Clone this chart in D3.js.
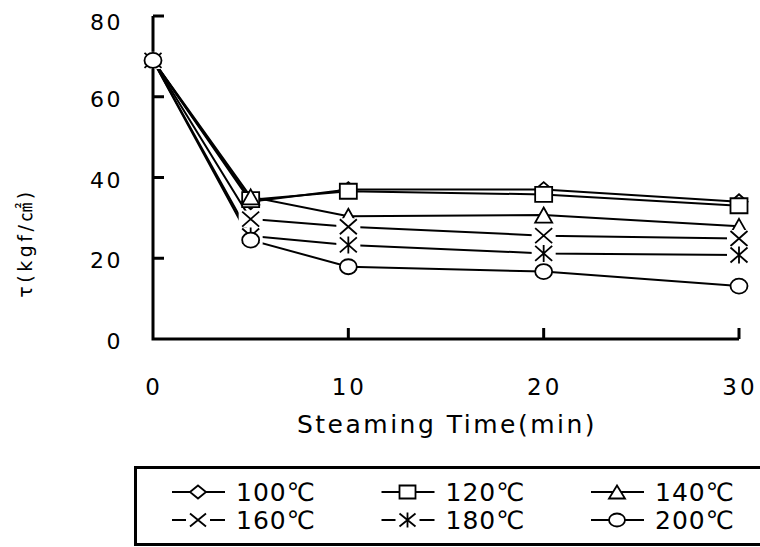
<!DOCTYPE html>
<html>
<head>
<meta charset="utf-8">
<script src="https://cdn.jsdelivr.net/npm/d3@7"></script>
<style>
  body { margin: 0; background: #fff; }
  text { font-family: "DejaVu Sans", "Liberation Sans", "Noto Sans CJK KR", sans-serif; fill: #000; }
</style>
</head>
<body>
<script>
const w = 760;
const h = 547;

// steaming time (min)
const times = [0, 5, 10, 20, 30];
// shear stress by steaming temperature
const t100 = [69, 34, 37, 37, 34];
const t120 = [69, 34.5, 36.6, 35.8, 33];
const t140 = [69, 35.2, 30.4, 30.7, 27.9];
const t160 = [69, 29.7, 27.8, 25.6, 24.9];
const t180 = [69, 25.5, 23.3, 21.2, 20.8];
const t200 = [69, 24.5, 17.9, 16.7, 13.1];
const seriesNames = ["100℃", "120℃", "140℃", "160℃", "180℃", "200℃"];
const markerTypes = ["diamond", "square", "triangle", "cross", "star", "circle"];
const yTicks = [0, 20, 40, 60, 80];
const xTicks = [0, 10, 20, 30];

const series = [t100, t120, t140, t160, t180, t200].map((vals, i) => ({
    name: seriesNames[i],
    marker: markerTypes[i],
    points: vals.map((v, j) => [times[j], v])
}));

const svg = d3.select("body").append("svg").attr("width", w).attr("height", h);
svg.append("rect").attr("width", w).attr("height", h).attr("fill", "#fff");

const x = d3.scaleLinear().domain([0, 30]).range([153, 739]);
const y = d3.scaleLinear().domain([0, 80]).range([339, 16]);

// marker path, half width a / half height b
function markerPath(type, a, b) {
    switch (type) {
        case "diamond": return `M0,${-b}L${a},0L0,${b}L${-a},0Z`;
        case "square": return `M${-a},${-b}H${a}V${b}H${-a}Z`;
        case "triangle": return `M0,${-b}L${a},${b}H${-a}Z`;
        case "cross": return `M${-a},${-b}L${a},${b}M${a},${-b}L${-a},${b}`;
        case "star": return `M${-a},${-b}L${a},${b}M${a},${-b}L${-a},${b}M0,${-b - 1}V${b + 1}`;
        case "circle": return `M${-a},0A${a},${b} 0 1,0 ${a},0A${a},${b} 0 1,0 ${-a},0Z`;
    }
}
const open = t => t === "cross" || t === "star";

function drawMarker(g, type, cx, cy, a, b) {
    if (open(type)) {
        g.append("rect")
            .attr("x", cx - 12).attr("y", cy - b - 1)
            .attr("width", 24).attr("height", 2 * b + 2)
            .attr("fill", "#fff");
    }
    g.append("path")
        .attr("d", markerPath(type, a, b))
        .attr("transform", `translate(${cx},${cy})`)
        .attr("fill", open(type) ? "none" : "#fff")
        .attr("stroke", "#000")
        .attr("stroke-width", 1.8);
}

////  Axes  ////
const axis = svg.append("g");
axis.append("path")
    .attr("d", `M${x(0)},${y(80)}V${y(0)}H${x(30)}`)
    .attr("fill", "none").attr("stroke", "#000").attr("stroke-width", 3);
axis.selectAll("line.yt").data(yTicks.filter(d => d > 0)).enter().append("line")
    .attr("x1", x(0)).attr("x2", x(0) + 11)
    .attr("y1", d => y(d)).attr("y2", d => y(d))
    .attr("stroke", "#000").attr("stroke-width", 3);
axis.selectAll("line.xt").data(xTicks.filter(d => d > 0)).enter().append("line")
    .attr("x1", d => x(d)).attr("x2", d => x(d))
    .attr("y1", y(0)).attr("y2", y(0) - 11)
    .attr("stroke", "#000").attr("stroke-width", 3);

axis.selectAll("text.yl").data(yTicks).enter().append("text")
    .attr("x", 123)
    .attr("y", d => y(d) + 10 + (d === 80 ? 4 : 0))
    .attr("text-anchor", "end")
    .attr("font-size", 22)
    .attr("letter-spacing", 2.5)
    .text(d => d);

axis.selectAll("text.xl").data(xTicks).enter().append("text")
    .attr("x", d => x(d) + 1)
    .attr("y", 395)
    .attr("text-anchor", "middle")
    .attr("font-size", 23)
    .attr("letter-spacing", 3)
    .text(d => d);

svg.append("text")
    .attr("x", 447)
    .attr("y", 433)
    .attr("text-anchor", "middle")
    .attr("font-size", 25)
    .attr("letter-spacing", 2.5)
    .text("Steaming Time(min)");

svg.append("text")
    .attr("transform", "translate(32,243) rotate(-90)")
    .attr("text-anchor", "middle")
    .attr("font-size", 19)
    .attr("letter-spacing", 3.5)
    .text("τ(kgf/㎠)");

////  Series  ////
const line = d3.line().x(d => x(d[0])).y(d => y(d[1]));

svg.append("g").selectAll("path").data(series).enter().append("path")
    .attr("d", d => line(d.points))
    .attr("fill", "none")
    .attr("stroke", "#000")
    .attr("stroke-width", 2);

const marks = svg.append("g");
series.forEach(s => {
    s.points.forEach(p => drawMarker(marks, s.marker, x(p[0]), y(p[1]), 8.5, 7.5));
});

////  Legend  ////
const legend = svg.append("g");
legend.append("rect")
    .attr("x", 135.5).attr("y", 467.5)
    .attr("width", 700).attr("height", 77)
    .attr("fill", "#fff").attr("stroke", "#000").attr("stroke-width", 3);

const colX = [198, 407.5, 617];
const rowY = [492, 520];
series.forEach((s, i) => {
    const cx = colX[i % 3];
    const cy = rowY[Math.floor(i / 3)];
    legend.append("line")
        .attr("x1", cx - 26).attr("x2", cx + 27)
        .attr("y1", cy).attr("y2", cy)
        .attr("stroke", "#000").attr("stroke-width", 2);
    drawMarker(legend, s.marker, cx, cy, 8, 6.5);
    legend.append("text")
        .attr("x", cx + 38)
        .attr("y", cy + 9)
        .attr("font-size", 25)
        .attr("letter-spacing", 1)
        .text(s.name);
});
</script>
</body>
</html>
